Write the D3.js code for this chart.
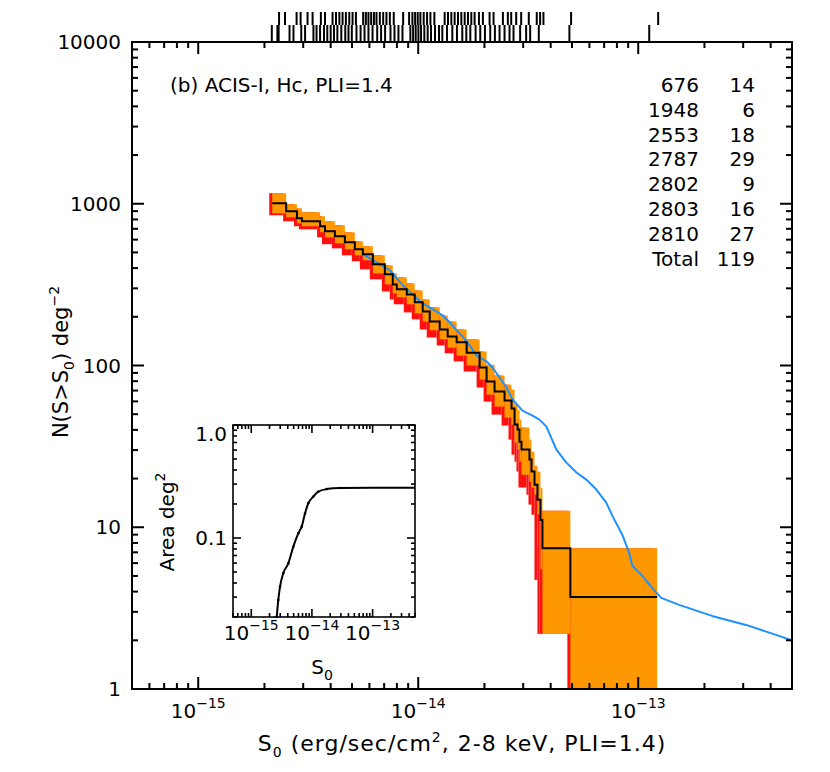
<!DOCTYPE html>
<html><head><meta charset="utf-8">
<script src="https://cdn.jsdelivr.net/npm/d3@7"></script>
<style>
body{margin:0;background:#fff}
svg{display:block}
text{font-family:"DejaVu Sans",sans-serif;fill:#000}
</style>
</head><body>
<svg id="c" width="830" height="772"></svg>
<script>
// ---------------- DATA ----------------
const FLUX_UNIT = 1e-15; // fluxes below are in units of 1e-15 erg/sec/cm^2

// staircase log N - log S (left edge flux of each step, N(>S) in deg^-2)
const stepFlux = [2.17, 2.51, 2.81, 2.96, 3.58, 3.77, 4.18, 4.64, 5.15, 5.60,
  6.22, 7.05, 7.66, 7.99, 8.87, 9.64, 10.48, 11.28, 12.52, 13.61,
  14.95, 16.60, 19.01, 20.45, 22.23, 24.68, 26.55, 27.40, 28.27, 28.86,
  29.47, 32.04, 32.72, 33.76, 34.83, 35.94, 36.70, 49.15];
const stepEndFlux = 121.9;
const stepN = [1007, 898, 813, 779, 726, 676, 629, 578, 523, 487,
  422, 366, 317, 296, 275, 246, 216, 187, 167, 151,
  139, 120, 97.2, 79.6, 69.0, 60.7, 54.2, 43.1, 40.2, 33.8,
  30.2, 26.2, 22.1, 18.3, 14.8, 11.1, 7.42, 3.71];
const errUpper = [1162, 993, 938, 886, 837, 779, 736, 666, 586, 546,
  480, 416, 371, 351, 322, 291, 256, 229, 204, 187,
  167, 145, 122, 101, 86.7, 76.2, 71.0, 57.4, 53.4, 46.3,
  41.3, 34.8, 29.3, 24.0, 22.1, 17.5, 12.65, 7.42];
const errLower = [873, 825, 757, 726, 666, 620, 570, 523, 480, 447,
  371, 317, 279, 264, 239, 210, 187, 165, 145, 129,
  115, 100, 81.9, 66.1, 55.7, 47.6, 43.1, 33.4, 30.2, 25.4,
  21.1, 19.1, 17.6, 15.9, 12.0, 5.5, 2.19, 0];
const redLower = [849, 779, 726, 695, 620, 562, 530, 480, 441, 393,
  341, 287, 256, 239, 213, 193, 167, 149, 133, 119,
  106, 91.8, 73.1, 59.8, 49.7, 42.5, 34.8, 28.1, 25.4, 22.1,
  17.6, 15.9, 13.8, 11.95, 4.73, 2.19, 2.19, 0];

// comparison curve (blue)
const blueFlux = [5.60, 6.03, 6.69, 7.43, 7.99, 8.51, 9.44, 10.48, 11.64, 12.92,
  13.90, 14.95, 15.92, 17.12, 18.42, 20.45, 21.77, 23.42, 25.20, 26.83,
  29.78, 33.06, 35.56, 38.25, 42.47, 47.15, 52.34, 58.10, 64.50, 71.58,
  76.21, 84.61, 91.02, 93.92, 104.3, 115.7, 127.2, 153.5, 216.6, 308.9,
  422.6, 494.1];
const blueN = [487, 460, 422, 388, 346, 313, 275, 242, 222, 204,
  185, 165, 151, 133, 115, 106, 97.2, 84.3, 73.1, 61.6,
  52.6, 49.0, 46.3, 41.9, 30.2, 25.1, 21.8, 19.7, 17.1, 14.2,
  11.8, 8.99, 6.95, 5.78, 5.01, 4.22, 3.66, 3.31, 2.83, 2.49,
  2.16, 2.01];

// inset: survey area vs flux
const areaFlux = [2.63, 2.79, 2.98, 3.37, 4.08, 4.93, 5.96, 6.78, 7.69, 8.71, 10.5, 12.7, 17.5, 29.0, 102.7, 500];
const areaDeg2 = [0.0201, 0.0283, 0.0371, 0.0487, 0.0597, 0.0838, 0.110, 0.126, 0.165, 0.203, 0.232, 0.257, 0.271, 0.277, 0.279, 0.279];

// source fluxes (rug along the top, two staggered rows)
const rugUpper = [2.33, 2.48, 2.80, 2.92, 3.14, 3.31, 3.61, 3.77, 4.08, 4.23, 4.38, 4.53, 4.69, 4.86, 5.03, 5.21,
  5.62, 5.78, 5.94, 6.11, 6.29, 6.46, 6.69, 6.93, 7.17, 7.43, 7.74, 8.54, 9.09, 9.41, 9.68, 9.95,
  10.23, 10.59, 10.97, 11.36, 11.84, 13.19, 13.66, 14.14, 14.64, 15.16, 15.70, 16.26, 16.83, 17.43,
  18.04, 18.88, 19.68, 21.10, 22.00, 24.26, 25.55, 26.46, 27.88, 29.37, 31.81, 34.58, 35.81, 37.08,
  49.52, 123.2];
const rugLower = [2.16, 2.29, 2.32, 2.60, 2.71, 2.94, 3.06, 3.34, 3.45, 3.58, 3.73, 3.86, 4.00, 4.14, 4.29,
  4.47, 4.66, 4.82, 4.99, 5.24, 5.47, 5.70, 5.94, 6.20, 6.51, 6.78, 7.07, 7.48, 7.80, 8.13, 8.48,
  9.21, 9.48, 9.74, 10.02, 10.30, 10.66, 11.04, 11.43, 11.92, 12.43, 12.87, 13.51, 14.29, 15.00,
  15.86, 16.54, 17.25, 18.23, 19.14, 20.10, 21.25, 22.31, 23.42, 24.68, 26.00, 27.11, 29.06, 30.94,
  32.27, 35.32, 48.66, 112.2];

// legend table
const legendObsId = ["676", "1948", "2553", "2787", "2802", "2803", "2810", "Total"];
const legendCount = ["14", "6", "18", "29", "9", "16", "27", "119"];

// tick labels
const xMajorExps = [-15, -14, -13];
const yMajorVals = [1, 10, 100, 1000, 10000];
const yMajorLabels = ["1", "10", "100", "1000", "10000"];
const insetXExps = [-15, -14, -13];
const insetYVals = [0.1, 1.0];
const insetYLabels = ["0.1", "1.0"];

// ---------------- DRAWING ----------------
const svg = d3.select("#c");
svg.append("rect").attr("width", 830).attr("height", 772).attr("fill", "#fff");

const M = {left: 132, right: 792, top: 42, bottom: 689};
const x = d3.scaleLog().domain([5e-16, 5e-13]).range([M.left, M.right]);
const y = d3.scaleLog().domain([1, 1e4]).range([M.bottom, M.top]);
const fx = v => x(v * FLUX_UNIT);
const fy = v => y(Math.max(v, 1));

svg.append("defs").append("clipPath").attr("id", "clipMain")
  .append("rect").attr("x", M.left).attr("y", M.top)
  .attr("width", M.right - M.left).attr("height", M.bottom - M.top);

const steps = stepFlux.map((s, i) => ({
  s0: s, s1: i < stepFlux.length - 1 ? stepFlux[i + 1] : stepEndFlux,
  n: stepN[i], up: errUpper[i], lo: errLower[i], rlo: redLower[i]
}));

const plot = svg.append("g").attr("clip-path", "url(#clipMain)");
const RED_SHIFT = 3;
plot.append("g").selectAll("rect").data(steps).join("rect")
  .attr("x", d => fx(d.s0) - RED_SHIFT)
  .attr("width", d => fx(d.s1) - fx(d.s0))
  .attr("y", d => fy(d.up))
  .attr("height", d => fy(d.rlo) - fy(d.up))
  .attr("fill", "#ff1010");
plot.append("g").selectAll("rect").data(steps).join("rect")
  .attr("x", d => fx(d.s0))
  .attr("width", d => fx(d.s1) - fx(d.s0))
  .attr("y", d => fy(d.up))
  .attr("height", d => fy(d.lo) - fy(d.up))
  .attr("fill", "#ff9800");

const blueLine = d3.line().x((d, i) => fx(blueFlux[i])).y((d, i) => fy(blueN[i]));
plot.append("path").attr("d", blueLine(blueFlux)).attr("fill", "none")
  .attr("stroke", "#1e90ff").attr("stroke-width", 2).attr("stroke-linejoin", "round");

const stairPts = steps.map(d => [d.s0, d.n]).concat([[stepEndFlux, stepN[stepN.length - 1]]]);
plot.append("path")
  .attr("d", d3.line().x(d => fx(d[0])).y(d => fy(d[1])).curve(d3.curveStepAfter)(stairPts))
  .attr("fill", "none").attr("stroke", "#000").attr("stroke-width", 2);

// rug of source fluxes above the frame
svg.append("g").selectAll("line").data(rugUpper).join("line")
  .attr("x1", d => fx(d)).attr("x2", d => fx(d)).attr("y1", 12).attr("y2", 25)
  .attr("stroke", "#000").attr("stroke-width", 2);
svg.append("g").selectAll("line").data(rugLower).join("line")
  .attr("x1", d => fx(d)).attr("x2", d => fx(d)).attr("y1", 25).attr("y2", 41)
  .attr("stroke", "#000").attr("stroke-width", 2);

// log tick helper
function logTickVals(domain) {
  const lo = Math.log10(domain[0]), hi = Math.log10(domain[1]);
  const major = [], minor = [];
  for (let e = Math.floor(lo) - 1; e <= Math.ceil(hi); e++) {
    for (let k = 1; k <= 9; k++) {
      const v = k * Math.pow(10, e);
      const lv = Math.log10(v);
      if (lv < lo - 1e-9 || lv > hi + 1e-9) continue;
      (k === 1 ? major : minor).push(v);
    }
  }
  return {major, minor};
}
function drawFrameTicks(g, xs, ys, box, majLen, minLen, sw) {
  const xt = logTickVals(xs.domain()), yt = logTickVals(ys.domain());
  const seg = [];
  xt.major.forEach(v => { seg.push([xs(v), box.bottom, xs(v), box.bottom - majLen]); seg.push([xs(v), box.top, xs(v), box.top + majLen]); });
  xt.minor.forEach(v => { seg.push([xs(v), box.bottom, xs(v), box.bottom - minLen]); seg.push([xs(v), box.top, xs(v), box.top + minLen]); });
  yt.major.forEach(v => { seg.push([box.left, ys(v), box.left + majLen, ys(v)]); seg.push([box.right, ys(v), box.right - majLen, ys(v)]); });
  yt.minor.forEach(v => { seg.push([box.left, ys(v), box.left + minLen, ys(v)]); seg.push([box.right, ys(v), box.right - minLen, ys(v)]); });
  g.append("g").selectAll("line").data(seg).join("line")
    .attr("x1", d => d[0]).attr("y1", d => d[1]).attr("x2", d => d[2]).attr("y2", d => d[3])
    .attr("stroke", "#000").attr("stroke-width", sw);
  g.append("rect").attr("x", box.left).attr("y", box.top)
    .attr("width", box.right - box.left).attr("height", box.bottom - box.top)
    .attr("fill", "none").attr("stroke", "#000").attr("stroke-width", sw);
}
drawFrameTicks(svg, x, y, M, 12, 6, 2);

function powLabel(g, px, py, exp, size, supSize) {
  const t = g.append("text").attr("x", px).attr("y", py).attr("text-anchor", "middle")
    .style("font-size", size + "px");
  t.append("tspan").text("10");
  t.append("tspan").attr("dy", -0.5 * size).style("font-size", supSize + "px").text("\u2212" + Math.abs(exp));
}
xMajorExps.forEach(e => powLabel(svg, x(Math.pow(10, e)), 718, e, 20, 14));
yMajorVals.forEach((v, i) => svg.append("text").attr("x", 121).attr("y", y(v) + 7)
  .attr("text-anchor", "end").style("font-size", "20px").text(yMajorLabels[i]));

// axis titles
const xt = svg.append("text").attr("x", 462).attr("y", 751).attr("text-anchor", "middle")
  .style("font-size", "22px").style("letter-spacing", "1px");
xt.append("tspan").text("S");
xt.append("tspan").attr("dy", 6).style("font-size", "14px").text("0");
xt.append("tspan").attr("dy", -6).text(" (erg/sec/cm");
xt.append("tspan").attr("dy", -9).style("font-size", "14px").text("2");
xt.append("tspan").attr("dy", 9).text(", 2-8 keV, PLI=1.4)");

const yt = svg.append("text").attr("transform", "translate(68,362) rotate(-90)")
  .attr("text-anchor", "middle").style("font-size", "21px");
yt.append("tspan").text("N(S>S");
yt.append("tspan").attr("dy", 6).style("font-size", "14px").text("0");
yt.append("tspan").attr("dy", -6).text(")  deg");
yt.append("tspan").attr("dy", -9).style("font-size", "14px").text("\u22122");

// panel title and legend
svg.append("text").attr("x", 170).attr("y", 92).style("font-size", "20px").text("(b) ACIS-I, Hc, PLI=1.4");
legendObsId.forEach((id, i) => {
  const yy = 92 + 24.8 * i;
  svg.append("text").attr("x", 699).attr("y", yy).attr("text-anchor", "end").style("font-size", "20px").text(id);
  svg.append("text").attr("x", 755).attr("y", yy).attr("text-anchor", "end").style("font-size", "20px").text(legendCount[i]);
});

// ---------------- INSET ----------------
const IB = {left: 233, right: 415, top: 425, bottom: 617};
const xi = d3.scaleLog().domain([5e-16, 5e-13]).range([IB.left, IB.right]);
const yi = d3.scaleLog().domain([0.02, 1.0]).range([IB.bottom, IB.top]);
const inset = svg.append("g");
inset.append("rect").attr("x", IB.left).attr("y", IB.top).attr("width", IB.right - IB.left)
  .attr("height", IB.bottom - IB.top).attr("fill", "#fff");
const areaLine = d3.line().x((d, i) => xi(areaFlux[i] * FLUX_UNIT)).y((d, i) => yi(areaDeg2[i])).curve(d3.curveMonotoneX);
inset.append("path").attr("d", areaLine(areaFlux)).attr("fill", "none").attr("stroke", "#000").attr("stroke-width", 2);
inset.append("g").selectAll("circle").data(areaFlux.slice(0, 14)).join("circle")
  .attr("cx", (d, i) => xi(d * FLUX_UNIT)).attr("cy", (d, i) => yi(areaDeg2[i])).attr("r", 1.3).attr("fill", "#000");
drawFrameTicks(inset, xi, yi, IB, 8, 4, 1.6);
insetXExps.forEach(e => powLabel(inset, xi(Math.pow(10, e)), 640, e, 20, 14));
insetYVals.forEach((v, i) => inset.append("text").attr("x", 227)
  .attr("y", yi(v) + 7 + (v >= 1 ? 9 : 0)).attr("text-anchor", "end").style("font-size", "20px").text(insetYLabels[i]));
const ixt = inset.append("text").attr("x", 322).attr("y", 674).attr("text-anchor", "middle").style("font-size", "20px");
ixt.append("tspan").text("S");
ixt.append("tspan").attr("dy", 6).style("font-size", "14px").text("0");
const iyt = inset.append("text").attr("transform", "translate(174,522) rotate(-90)")
  .attr("text-anchor", "middle").style("font-size", "20px");
iyt.append("tspan").text("Area deg");
iyt.append("tspan").attr("dy", -9).style("font-size", "14px").text("2");
</script>
</body></html>
